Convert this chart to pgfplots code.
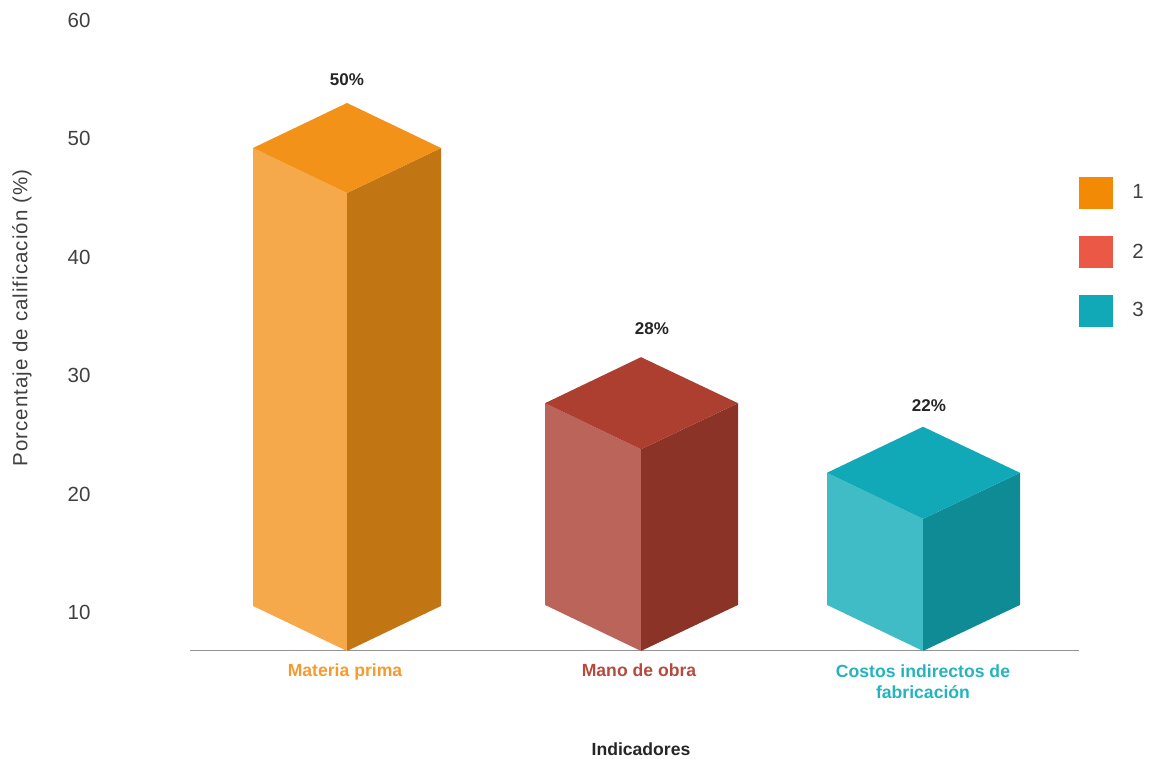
\documentclass[border=0pt]{standalone}
\usepackage{pgfplots}
\usepackage{fontspec}
\setmainfont{Liberation Sans}
\pgfplotsset{compat=1.18}
\definecolor{lo}{HTML}{F29219}\definecolor{lof}{HTML}{F5A94A}\definecolor{lod}{HTML}{C27513}
\definecolor{lr}{HTML}{AD3F31}\definecolor{lrf}{HTML}{BB655A}\definecolor{lrd}{HTML}{8B3327}
\definecolor{lt}{HTML}{11A9B8}\definecolor{ltf}{HTML}{40BCC6}\definecolor{ltd}{HTML}{0E8B94}
\definecolor{lego}{HTML}{F28A05}\definecolor{legr}{HTML}{EB5845}
\definecolor{txto}{HTML}{F49B30}\definecolor{txtr}{HTML}{B54A3E}\definecolor{txtt}{HTML}{25B3BE}
\definecolor{txt}{HTML}{404040}
\begin{document}
\begin{tikzpicture}[x=1pt,y=1pt]
\useasboundingbox (0,0) rectangle (1154,758);
% Scale: value 50 sits at 148 from the top, 11.6 units of height per percentage point.
\begin{axis}[
  at={(95pt,0pt)},anchor=south west,
  scale only axis,width=1059pt,height=758pt,
  xmin=95,xmax=1154,ymin=-2.586,ymax=62.759,
  axis line style={draw=none},tick style={draw=none},clip=false,
  xtick=\empty,
  ytick={61.03,50.83,40.6,30.38,20.17,10},
  yticklabels={60,50,40,30,20,10},
  yticklabel style={font=\fontsize{20.5}{24}\selectfont,text=txt,anchor=east,xshift=-1pt},
  legend style={at={(axis cs:1079,47.5)},anchor=north west,draw=none,fill=none,
    font=\fontsize{20.5}{24}\selectfont,text=txt,row sep=27.5pt,inner sep=0pt,outer sep=0pt},
  legend cell align=left,
  legend image code/.code={\fill[#1] (0pt,-15.5pt) rectangle (33pt,15.5pt);},
]
% Baseline
\addplot[forget plot,draw=gray!85,line width=1pt] coordinates {(190,6.64) (1079,6.64)};
% Bar 1: value 50
\addplot[forget plot,fill=lof,draw=none] coordinates {(253,50) (347,46.12) (347,6.64) (253,10.52)} -- cycle;
\addplot[forget plot,fill=lod,draw=none] coordinates {(441,50) (347,46.12) (347,6.64) (441,10.52)} -- cycle;
\addplot[forget plot,fill=lo,draw=none] coordinates {(253,50) (347,53.88) (441,50) (347,46.12)} -- cycle;
% Bar 2: value 28
\addplot[forget plot,fill=lrf,draw=none] coordinates {(545,28) (641,24.03) (641,6.64) (545,10.61)} -- cycle;
\addplot[forget plot,fill=lrd,draw=none] coordinates {(738,28) (641,24.03) (641,6.64) (738,10.61)} -- cycle;
\addplot[forget plot,fill=lr,draw=none] coordinates {(545,28) (641,31.97) (738,28) (641,24.03)} -- cycle;
% Bar 3: value 22
\addplot[forget plot,fill=ltf,draw=none] coordinates {(827,22) (923,18.03) (923,6.64) (827,10.61)} -- cycle;
\addplot[forget plot,fill=ltd,draw=none] coordinates {(1020,22) (923,18.03) (923,6.64) (1020,10.61)} -- cycle;
\addplot[forget plot,fill=lt,draw=none] coordinates {(827,22) (923,25.97) (1020,22) (923,18.03)} -- cycle;
\addlegendimage{lego}\addlegendentry{\hspace{18pt}1}
\addlegendimage{legr}\addlegendentry{\hspace{18pt}2}
\addlegendimage{lt}\addlegendentry{\hspace{18pt}3}
% Value labels and category names
\node[font=\bfseries\fontsize{17}{20}\selectfont,text=black!85] at (axis cs:347,55.86) {50\%};
\node[font=\bfseries\fontsize{17}{20}\selectfont,text=black!85] at (axis cs:652,34.4) {28\%};
\node[font=\bfseries\fontsize{17}{20}\selectfont,text=black!85] at (axis cs:929,27.76) {22\%};
\node[font=\bfseries\fontsize{17.6}{21}\selectfont,text=txto,anchor=base] at (axis cs:345,4.4) {Materia prima};
\node[font=\bfseries\fontsize{17.6}{21}\selectfont,text=txtr,anchor=base] at (axis cs:639,4.4) {Mano de obra};
\node[font=\bfseries\fontsize{17.6}{21}\selectfont,text=txtt,align=center] at (axis cs:923,3.97) {Costos indirectos de\\fabricación};
\end{axis}
\node[font=\bfseries\fontsize{17.6}{21}\selectfont,text=black!85] at (641,9) {Indicadores};
\node[font=\fontsize{20.5}{24}\selectfont\addfontfeature{LetterSpace=5},text=txt,rotate=90] at (22,440) {Porcentaje de calificación (\%)};
\end{tikzpicture}
\end{document}
